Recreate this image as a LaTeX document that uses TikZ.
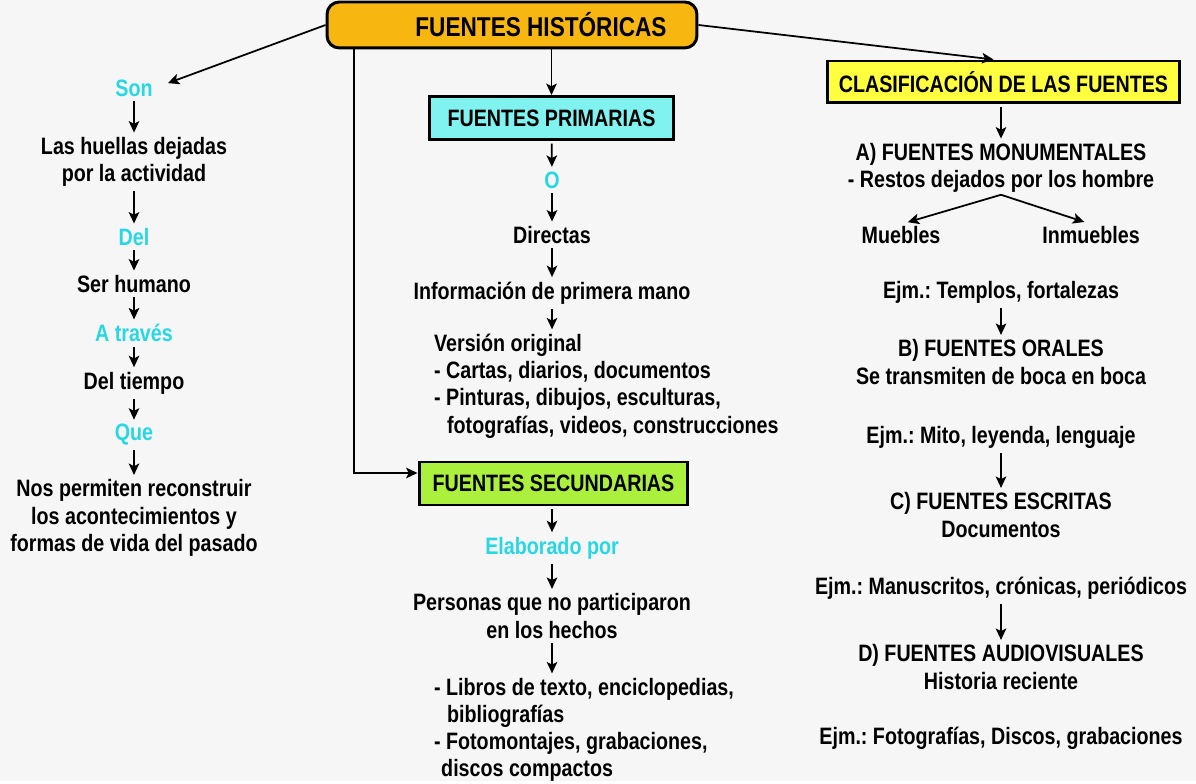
\documentclass[tikz,border=0pt]{standalone}
\usepackage{fontspec}
\setmainfont{Liberation Sans}[FakeStretch=0.83]
\usetikzlibrary{arrows.meta}
\frenchspacing

\definecolor{pagegray}{RGB}{246,246,246}
\definecolor{histfill}{RGB}{247,183,16}
\definecolor{primfill}{RGB}{128,242,240}
\definecolor{secfill}{RGB}{170,240,60}
\definecolor{clasfill}{RGB}{255,255,64}
\definecolor{cueblue}{RGB}{40,215,228}

\tikzset{
  txt/.style={font=\bfseries\fontsize{13.5}{15.5}\selectfont, align=center, inner sep=1pt},
  cue/.style={txt, text=cueblue},
  titlebox/.style={draw, line width=1.7pt, font=\bfseries\fontsize{13.5}{15}\selectfont, inner sep=0pt},
  arr/.style={-{Stealth[length=6.5pt,width=6pt,inset=1.5pt]}, line width=1pt},
  down/.style={arr, shorten <=1.5pt, shorten >=1.5pt}
}

\begin{document}
\begin{tikzpicture}[x=0.02cm, y=-0.02cm]
        \fill[pagegray] (0,0) rectangle (1196,781);

        %Title
        \node [titlebox, fill = histfill, rounded corners = 7pt, minimum width = 7.4cm, minimum height = 0.92cm,
        font = \bfseries\fontsize{15.5}{17}\selectfont]
        (hist)at(512,25){\hspace*{1.16cm}FUENTES HISTÓRICAS};

        %Left column
        \node [cue] (son)at(134,88){Son};
        \node [txt] (huellas)at(134,162){Las huellas dejadas\\por la actividad};
        \node [cue] (del)at(134,237){Del};
        \node [txt] (ser)at(134,284){Ser humano};
        \node [cue] (traves)at(134,333){A través};
        \node [txt] (tiempo)at(134,383){Del tiempo};
        \node [cue] (que)at(134,435){Que};
        \node [txt] (nos)at(134,518){Nos permiten reconstruir\\los acontecimientos y\\formas de vida del pasado};

        %Primary sources
        \node [titlebox, fill = primfill, minimum width = 4.9cm, minimum height = 0.86cm]
        (prim)at(551.5,118){FUENTES PRIMARIAS};
        \node [cue] (o)at(552,180){O};
        \node [txt] (directas)at(552,235){Directas};
        \node [txt] (info)at(552,293){Información de primera mano};
        \node [txt, align = left, anchor = north west] (version)at(432,332)
        {Versión original\\- Cartas, diarios, documentos\\- Pinturas, dibujos, esculturas,\\\hspace{0.55em}fotografías, videos, construcciones};

        %Secondary sources
        \node [titlebox, fill = secfill, minimum width = 5.38cm, minimum height = 0.86cm]
        (sec)at(553.5,483.5){FUENTES SECUNDARIAS};
        \node [cue] (elab)at(552,548){Elaborado por};
        \node [txt] (personas)at(552,616){Personas que no participaron\\en los hechos};
        \node [txt, align = left, anchor = north west] (libros)at(432,676)
        {- Libros de texto, enciclopedias,\\\hspace{0.55em}bibliografías\\- Fotomontajes, grabaciones,\\\hspace{0.3em}discos compactos};

        %Classification
        \node [titlebox, fill = clasfill, minimum width = 7.06cm, minimum height = 0.84cm]
        (clas)at(1003.5,82){CLASIFICACIÓN DE LAS FUENTES};
        \node [txt] (monu)at(1001,168){A) FUENTES MONUMENTALES\\- Restos dejados por los hombre};
        \node [txt] (muebles)at(901,235){Muebles};
        \node [txt] (inmuebles)at(1091,235){Inmuebles};
        \node [txt] (templos)at(1001,292){Ejm.: Templos, fortalezas};
        \node [txt] (orales)at(1001,362){B) FUENTES ORALES\\Se transmiten de boca en boca};
        \node [txt] (mito)at(1001,437){Ejm.: Mito, leyenda, lenguaje};
        \node [txt] (escritas)at(1001,515){C) FUENTES ESCRITAS\\Documentos};
        \node [txt] (manus)at(1001,588){Ejm.: Manuscritos, crónicas, periódicos};
        \node [txt] (audio)at(1001,667){D) FUENTES AUDIOVISUALES\\Historia reciente};
        \node [txt] (fotos)at(1001,738){Ejm.: Fotografías, Discos, grabaciones};

        \coordinate (bend) at (354,473);

        %Arrows from title
        \draw [arr, shorten >=8pt](hist.west)--(son.east);
        \draw [arr](hist.south -| prim.north)--(prim.north);
        \draw [arr](hist.south -| bend)--(bend)--(bend -| sec.west);
        \draw [arr](hist.east)--([xshift=-0.2cm]clas.north);

        %Left chain
        \draw [down](son)--(huellas);
        \draw [down](huellas)--(del);
        \draw [down](del)--(ser);
        \draw [down](ser)--(traves);
        \draw [down](traves)--(tiempo);
        \draw [down](tiempo)--(que);
        \draw [down](que)--(nos);

        %Middle chain
        \draw [down](prim)--(o);
        \draw [down](o)--(directas);
        \draw [down](directas)--(info);
        \draw [down](info.south)--(info.south |- version.north);
        \draw [down](sec.south -| elab)--(elab);
        \draw [down](elab)--(personas);
        \draw [down](personas.south)--(personas.south |- libros.north);

        %Right chain
        \draw [down](clas.south -| monu)--(monu);
        \draw [arr, shorten >=4pt](monu.south)--(muebles.north);
        \draw [arr, shorten >=4pt](monu.south)--(inmuebles.north);
        \draw [down](templos)--(orales);
        \draw [down](mito)--(escritas);
        \draw [down](manus)--(audio);

    \end{tikzpicture}
\end{document}
